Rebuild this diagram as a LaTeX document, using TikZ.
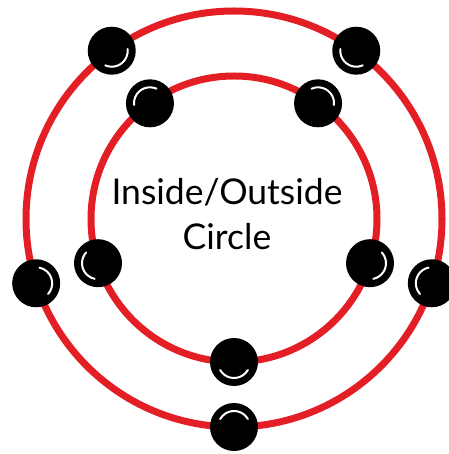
\documentclass[tikz,border=0pt]{standalone}
\usepackage{fontspec}
\setmainfont{Lato}
\usepackage{xcolor}
\usepackage{tikz}
\definecolor{ringred}{RGB}{227, 30, 36}

\begin{document}
\begin{tikzpicture}[x=1pt, y=1pt,
    ring/.style={draw=ringred, line width=7pt},
    ball/.style={circle, fill=black, minimum size=48pt, inner sep=0pt},
    shine/.style={white, line width=2pt, line cap=round}]
    \useasboundingbox (-234,-235) rectangle (214,219);

    % Outer and inner rings
    \draw[ring] (0,0) circle (208);
    \draw[ring] (0,0) circle (143);

    % Balls on both rings, shine facing the other ring
    \foreach \a [count=\i] in {270, 342, 54, 126, 198} {
        \node[ball] (outer\i) at (\a:208) {};
        \draw[shine, shift={(outer\i.center)}] (\a+120:16) arc[start angle=\a+120, end angle=\a+240, radius=16];
        \node[ball] (inner\i) at (\a:143) {};
        \draw[shine, shift={(inner\i.center)}] (\a-60:16) arc[start angle=\a-60, end angle=\a+60, radius=16];
    }

    % Title
    \node[font=\fontsize{35.5}{45}\selectfont, align=center] (title) at (-7,5) {Inside/Outside\\Circle};
\end{tikzpicture}
\end{document}
